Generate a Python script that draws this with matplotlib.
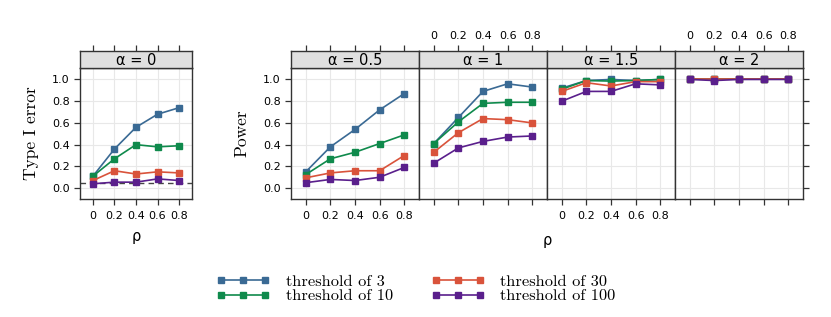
import matplotlib
matplotlib.use('Agg')
import matplotlib.pyplot as plt
from matplotlib.lines import Line2D

rho = [0, 0.2, 0.4, 0.6, 0.8]
rho_ticks = ['0', '0.2', '0.4', '0.6', '0.8']
thresholds = [3, 10, 30, 100]
colors = ['#3a6a94', '#0f8a4c', '#d9533b', '#5a1f8c']

# type I error, alpha = 0
alpha_0 = {3: [0.11, 0.36, 0.56, 0.68, 0.74],
           10: [0.11, 0.27, 0.40, 0.38, 0.39],
           30: [0.07, 0.16, 0.13, 0.15, 0.14],
           100: [0.04, 0.055, 0.055, 0.085, 0.07]}
# power
alpha_05 = {3: [0.15, 0.38, 0.54, 0.72, 0.87],
            10: [0.125, 0.27, 0.33, 0.41, 0.49],
            30: [0.095, 0.14, 0.16, 0.16, 0.30],
            100: [0.05, 0.08, 0.07, 0.10, 0.19]}
alpha_1 = {3: [0.41, 0.65, 0.89, 0.96, 0.93],
           10: [0.41, 0.61, 0.78, 0.79, 0.79],
           30: [0.33, 0.51, 0.64, 0.63, 0.60],
           100: [0.23, 0.37, 0.43, 0.47, 0.48]}
alpha_15 = {3: [0.92, 0.99, 1.0, 0.99, 1.0],
            10: [0.91, 0.99, 0.985, 0.99, 1.0],
            30: [0.89, 0.97, 0.94, 0.98, 0.98],
            100: [0.80, 0.89, 0.89, 0.96, 0.95]}
alpha_2 = {3: [1.0, 1.0, 1.0, 1.0, 1.0],
           10: [1.0, 1.0, 1.0, 1.0, 1.0],
           30: [1.0, 1.0, 1.0, 1.0, 1.0],
           100: [1.0, 0.99, 1.0, 1.0, 1.0]}
nominal_level = 0.05

W, H = 831, 317
fig = plt.figure(figsize=(W / 100, H / 100), dpi=100)
frame = '#333333'
serif = 'cmr10'
tick_fs = 8


def box(x0, y0, x1, y1):
    return [x0 / W, 1 - y1 / H, (x1 - x0) / W, (y1 - y0) / H]


def panel(x0, x1, title, data, top_labels, bottom_labels, left, right, left_labels):
    ax = fig.add_axes(box(x0, 67.5, x1, 199))
    st = fig.add_axes(box(x0, 51, x1, 67.5), sharex=ax)
    for i, t in enumerate(thresholds):
        ax.plot(rho, data[t], color=colors[i], lw=1.2, marker='s', ms=5,
                mec=colors[i], zorder=3)
    ax.set_xlim(-0.12, 0.92)
    ax.set_ylim(-0.1, 1.11)
    ax.set_xticks(rho)
    ax.set_yticks([0, 0.2, 0.4, 0.6, 0.8, 1.0])
    ax.grid(color='#e8e8e8', lw=0.8)
    ax.set_axisbelow(True)
    for s in ax.spines.values():
        s.set_color(frame)
        s.set_linewidth(1.0)
    ax.tick_params(axis='x', direction='out', length=4.5, width=0.9, color=frame,
                   labelsize=tick_fs, pad=4, labelbottom=bottom_labels)
    ax.tick_params(axis='y', direction='out', length=4.5, width=0.9, color=frame,
                   labelsize=tick_fs, pad=3, left=left, labelleft=left_labels,
                   right=right, labelright=False)
    ax.set_xticklabels(rho_ticks)
    ax.set_yticklabels(['0.0', '0.2', '0.4', '0.6', '0.8', '1.0'])

    st.set_facecolor('#e0e0e0')
    st.set_yticks([])
    st.tick_params(axis='x', direction='out', length=4.5, width=0.9, color=frame,
                   labelsize=tick_fs, pad=3, top=True, bottom=False,
                   labeltop=top_labels, labelbottom=False)
    for s in st.spines.values():
        s.set_color(frame)
        s.set_linewidth(1.0)
    st.text(0.5, 0.45, title, transform=st.transAxes, ha='center', va='center',
            fontsize=10.5)
    return ax


ax0 = panel(80, 192, 'α = 0', alpha_0, False, True, True, False, True)
ax0.axhline(nominal_level, color='#444444', lw=1.0, ls=(0, (4, 3)), zorder=2)

edges = [291, 419, 547, 675, 803]
titles = ['α = 0.5', 'α = 1', 'α = 1.5', 'α = 2']
datas = [alpha_05, alpha_1, alpha_15, alpha_2]
for k in range(4):
    panel(edges[k], edges[k + 1], titles[k], datas[k],
          top_labels=(k % 2 == 1), bottom_labels=(k % 2 == 0),
          left=(k == 0), right=(k == 3), left_labels=(k == 0))

fig.text(31 / W, 1 - 133 / H, 'Type I error', rotation=90, ha='center',
         va='center', fontsize=12.5, family=serif)
fig.text(242 / W, 1 - 133 / H, 'Power', rotation=90, ha='center',
         va='center', fontsize=12.5, family=serif)
fig.text(136 / W, 1 - 236 / H, 'ρ', ha='center', va='center', fontsize=10.5)
fig.text(547 / W, 1 - 240 / H, 'ρ', ha='center', va='center', fontsize=10.5)

handles = [Line2D([0], [0], color=c, lw=1.2, marker='s', ms=5) for c in colors]
labels = ['threshold of %d' % t for t in thresholds]
fig.legend(handles, labels, loc='center', bbox_to_anchor=(416 / W, 1 - 289 / H),
           ncol=2, frameon=False, numpoints=3, handlelength=3.3,
           handletextpad=0.95, columnspacing=2.3, labelspacing=0.0,
           prop={'family': serif, 'size': 11.8}, borderpad=0)

fig.savefig('out.png', dpi=100)
